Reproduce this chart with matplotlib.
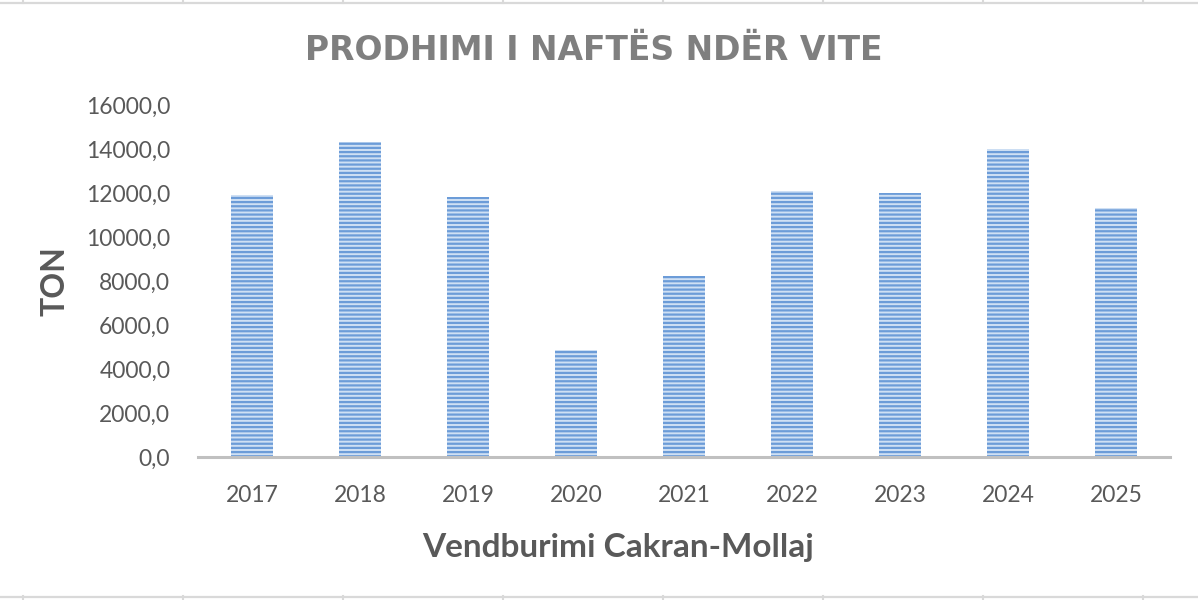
import matplotlib.pyplot as plt
from matplotlib.lines import Line2D
from matplotlib.ticker import FuncFormatter

years = ['2017', '2018', '2019', '2020', '2021', '2022', '2023', '2024', '2025']
production = [11900, 14300, 11800, 4850, 8230, 12100, 12000, 14000, 11300]
y_ticks = [0, 2000, 4000, 6000, 8000, 10000, 12000, 14000, 16000]

plt.rcParams['font.family'] = ['Lato', 'DejaVu Sans']
plt.rcParams['hatch.linewidth'] = 1.6

fig = plt.figure(figsize=(11.98, 6), dpi=100)
ax = fig.add_axes([0.1653, 0.2383, 0.8113, 0.5867])

x = range(len(years))
ax.bar(x, production, width=0.39, color='#cfe0f4', edgecolor='#6c9cd8',
       linewidth=0, hatch='----', zorder=2)

ax.set_xlim(-0.5, len(years) - 0.5)
ax.set_ylim(0, 16000)
ax.set_yticks(y_ticks)
ax.yaxis.set_major_formatter(FuncFormatter(lambda v, p: f'{v:.1f}'.replace('.', ',')))
ax.set_xticks(list(x))
ax.set_xticklabels(years)

for s in ['top', 'right', 'left']:
    ax.spines[s].set_visible(False)
ax.spines['bottom'].set_color('#c0c0c0')
ax.spines['bottom'].set_linewidth(2.2)
ax.tick_params(axis='both', length=0, labelsize=16.5, colors='#595959')
ax.tick_params(axis='y', pad=20)
ax.tick_params(axis='x', pad=20)

fig.text(0.496, 0.915, 'PRODHIMI I NAFTËS NDËR VITE', ha='center', va='center',
         fontsize=23.8, fontweight='bold', color='#7f7f7f', family=['DejaVu Sans'])
fig.text(0.516, 0.087, 'Vendburimi Cakran-Mollaj', ha='center', va='center',
         fontsize=24, fontweight='bold', color='#595959')
fig.text(0.046, 0.532, 'TON', ha='center', va='center', rotation=90,
         fontsize=23, fontweight='bold', color='#595959')

# sheet frame lines
frame = '#d9d9d9'
fig.add_artist(Line2D([0, 1], [0.9955, 0.9955], color=frame, lw=1.6, transform=fig.transFigure))
fig.add_artist(Line2D([0, 1], [0.0055, 0.0055], color=frame, lw=1.6, transform=fig.transFigure))
for px in range(23, 1198, 160):
    fx = px / 1198
    fig.add_artist(Line2D([fx, fx], [0.995, 1.0], color=frame, lw=1.5, transform=fig.transFigure))
    fig.add_artist(Line2D([fx, fx], [0.0, 0.006], color=frame, lw=1.5, transform=fig.transFigure))

fig.savefig('out.png', dpi=100, facecolor='white')
